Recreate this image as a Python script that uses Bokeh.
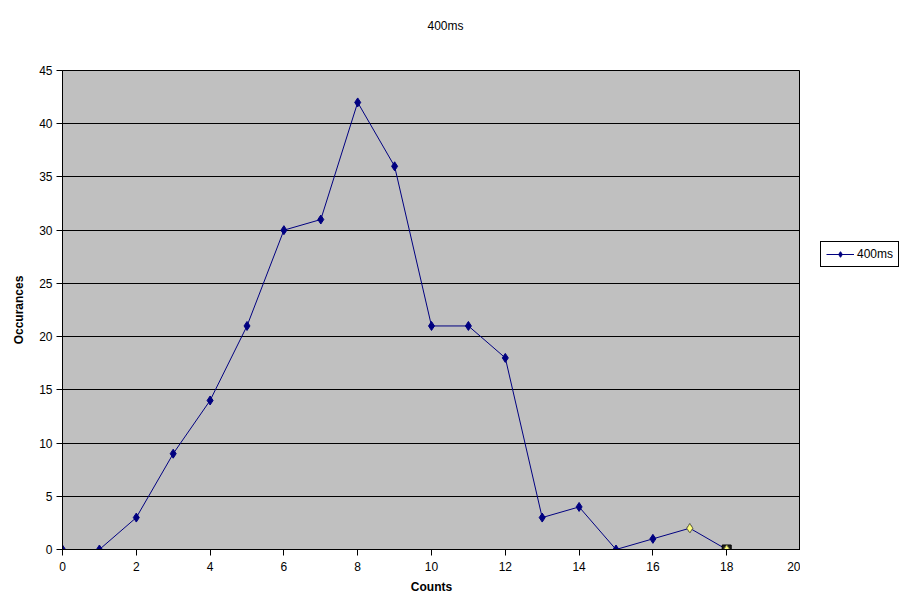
from bokeh.plotting import figure
from bokeh.layouts import row, column
from bokeh.models import Legend, LegendItem, FixedTicker, ColumnDataSource, Range1d, Label
from bokeh.embed import file_html
from bokeh.resources import INLINE

counts = [0, 1, 2, 3, 4, 5, 6, 7, 8, 9, 10, 11, 12, 13, 14, 15, 16, 17, 18]
occurances = [0, 0, 3, 9, 14, 21, 30, 31, 42, 36, 21, 21, 18, 3, 4, 0, 1, 2, 0]
highlighted = [17, 18]
x_ticks = list(range(0, 21, 2))
y_ticks = list(range(0, 46, 5))
series_name = "400ms"
chart_title = "400ms"

FONT = "Liberation Sans"
NAVY = "#000080"

# title strip
t = figure(output_backend="svg", toolbar_location=None, width=900, height=40,
           x_range=Range1d(0, 900), y_range=Range1d(0, 40), min_border=0)
t.axis.visible = False
t.grid.visible = False
t.outline_line_color = None
t.background_fill_color = "white"
t.border_fill_color = "white"
t.add_layout(Label(x=445, y=15, text=chart_title, text_align="center", text_baseline="middle",
                   text_font=FONT, text_font_size="12px", text_color="black"))

p = figure(output_backend="svg", toolbar_location=None,
           x_range=Range1d(0, 20), y_range=Range1d(0, 45),
           frame_width=738, frame_height=479,
           min_border_left=62, min_border_right=0, min_border_top=30, min_border_bottom=54)
p.border_fill_color = "white"
p.background_fill_color = "#C0C0C0"
p.outline_line_color = "black"
p.outline_line_width = 1

p.xaxis.ticker = FixedTicker(ticks=x_ticks)
p.yaxis.ticker = FixedTicker(ticks=y_ticks)
for ax in (p.xaxis[0], p.yaxis[0]):
    ax.major_tick_out = 6
    ax.major_tick_in = 0
    ax.minor_tick_line_color = None
    ax.axis_line_color = "black"
    ax.major_tick_line_color = "black"
    ax.major_label_text_font = FONT
    ax.major_label_text_font_size = "12px"
    ax.major_label_text_color = "black"
    ax.axis_label_text_font = FONT
    ax.axis_label_text_font_size = "12px"
    ax.axis_label_text_font_style = "bold"
    ax.axis_label_text_color = "black"
p.xaxis.axis_label = "Counts"
p.yaxis.axis_label = "Occurances"
p.xaxis.major_label_standoff = 6
p.yaxis.major_label_standoff = 4
p.xaxis.axis_label_standoff = 6
p.yaxis.axis_label_standoff = 10

p.xgrid.grid_line_color = None
p.ygrid.ticker = FixedTicker(ticks=y_ticks)
p.ygrid.grid_line_color = "black"
p.ygrid.grid_line_alpha = 1.0
p.ygrid.grid_line_width = 1

src = ColumnDataSource(dict(x=counts, y=occurances))
p.line("x", "y", source=src, line_color=NAVY, line_width=1)
p.scatter("x", "y", source=src, marker="diamond", size=9, fill_color=NAVY, line_color=NAVY)

hx = [counts[i] for i in highlighted]
hy = [occurances[i] for i in highlighted]
p.scatter([hx[-1]], [hy[-1]], marker="square", size=9, fill_color="#202020", line_color="black")
p.scatter(hx, hy, marker="diamond", size=9, fill_color="#FFFF80", line_color="#808040")

# legend strip to the right of the chart (its glyph data lies outside its view)
q = figure(output_backend="svg", toolbar_location=None, width=100, height=563,
           x_range=Range1d(-2, -1), y_range=Range1d(-2, -1), min_border=0)
q.axis.visible = False
q.grid.visible = False
q.outline_line_color = None
q.background_fill_color = "white"
q.border_fill_color = "white"
lg_src = ColumnDataSource(dict(x=counts, y=occurances))
lg_line = q.line("x", "y", source=lg_src, line_color=NAVY, line_width=1)
lg_pts = q.scatter("x", "y", source=lg_src, marker="diamond", size=8, fill_color=NAVY, line_color=NAVY)
legend = Legend(items=[LegendItem(label=series_name, renderers=[lg_line, lg_pts])],
                location=(20, 282), orientation="vertical",
                border_line_color="black", border_line_width=1, border_line_alpha=1.0,
                background_fill_color="white", background_fill_alpha=1,
                label_text_font=FONT, label_text_font_size="12px", label_text_color="black",
                glyph_width=28, glyph_height=14, padding=5, spacing=0,
                label_standoff=3, margin=0)
q.add_layout(legend, "center")

layout = column(t, row(p, q, spacing=0), spacing=0)
open("out.html", "w").write(file_html(layout, INLINE))
